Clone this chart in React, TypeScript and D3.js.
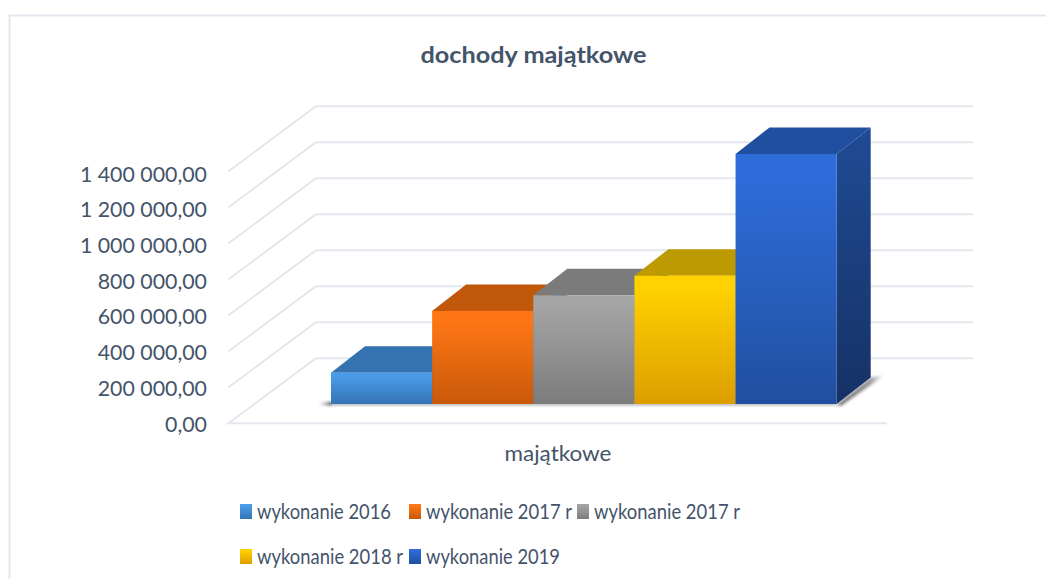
import React from "react";
import * as d3 from "d3";

const chartTitle = "dochody majątkowe";
const categoryLabel = "majątkowe";
const seriesNames = ["wykonanie 2016", "wykonanie 2017 r", "wykonanie 2017 r", "wykonanie 2018 r", "wykonanie 2019"];
const seriesValues = [174000, 517000, 604000, 713000, 1389000];
const tickValues = [0, 200000, 400000, 600000, 800000, 1000000, 1200000, 1400000];
const frontTop = ["#4a9be8", "#ff7614", "#a4a4a4", "#ffd100", "#2e6cd9"];
const frontBottom = ["#3574b4", "#c8590a", "#7c7c7c", "#dc9e00", "#214f9f"];
const topFace = ["#3572b0", "#c15809", "#7b7b7b", "#bc9a00", "#214f9f"];

const TEXT = "#44546a";
const GRID = "#e4e7ee";
const FONT = "Lato, 'Open Sans', sans-serif";

const W = 1046;
const H = 579;
const floorFrontY = 423.3;
const floorLeftX = 228.5;
const floorRightX = 886.7;
const wallDx = 87.5;
const wallDy = 65;
const baseY = 404;
const barDx = 34;
const barDy = 26.5;

const y = d3.scaleLinear().domain([0, 1400000]).range([0, 252]);
const labelY = d3.scaleLinear().domain([0, 1400000]).range([431.5, 181.7]);
const x = d3.scaleBand<number>().domain(d3.range(seriesNames.length)).range([331, 836.7]).padding(0);
const fmt = d3.formatLocale({ decimal: ",", thousands: " ", grouping: [3], currency: ["", ""] }).format(",.2f");
const poly = (pts: [number, number][]) => (d3.line()(pts) as string) + "Z";

const legendPos: [number, number][] = [[240, 504], [409, 504], [577, 504], [240, 549], [409, 549]];
const legendTextWidth = [134, 146, 146, 146, 134];

export default function App() {
  const barW = x.bandwidth();
  const lastX = x(seriesNames.length - 1)! + barW;
  return (
    <svg width={W} height={H} viewBox={`0 0 ${W} ${H}`} style={{ position: "absolute", left: 0, top: 0, background: "#fff" }} fontFamily={FONT}>
      <defs>
        {seriesNames.map((_, i) => (
          <linearGradient key={i} id={`f${i}`} x1="0" y1="0" x2="0" y2="1">
            <stop offset="0.1" stopColor={frontTop[i]} />
            <stop offset="1" stopColor={frontBottom[i]} />
          </linearGradient>
        ))}
        <linearGradient id="side" x1="0" y1="0" x2="0" y2="1">
          <stop offset="0" stopColor="#1f4b95" />
          <stop offset="1" stopColor="#163165" />
        </linearGradient>
        <linearGradient id="shR" x1="0" y1="0" x2="1" y2="0">
          <stop offset="0" stopColor="#666" />
          <stop offset="0.7" stopColor="#999" />
          <stop offset="1" stopColor="#ddd" stopOpacity="0.3" />
        </linearGradient>
        <linearGradient id="shL" x1="0" y1="0" x2="1" y2="0">
          <stop offset="0" stopColor="#ccc" stopOpacity="0" />
          <stop offset="1" stopColor="#666" />
        </linearGradient>
        <filter id="bl" x="-10%" y="-30%" width="120%" height="160%">
          <feGaussianBlur stdDeviation="0.8" />
        </filter>
        <filter id="blR" x="-20%" y="-30%" width="140%" height="160%">
          <feGaussianBlur stdDeviation="1.4" />
        </filter>
      </defs>

      <path d={`M9.5 ${H}V15.5H${W}`} fill="none" stroke={GRID} strokeWidth={2} />

      <text x={533.5} y={63} textAnchor="middle" fontSize={23.5} fontWeight={700} fill={TEXT} textLength={226} lengthAdjust="spacingAndGlyphs">{chartTitle}</text>

      {tickValues.map((t) => {
        const fy = floorFrontY - y(t);
        const isZero = t === 0;
        return (
          <g key={t}>
            <path
              d={isZero
                ? `M973 ${fy - wallDy}H${floorLeftX + wallDx}L${floorLeftX} ${fy}H${floorRightX}`
                : `M${floorLeftX} ${fy}L${floorLeftX + wallDx} ${fy - wallDy}H973`}
              fill="none" stroke={GRID} strokeWidth={2}
            />
            <text transform={`translate(207 ${labelY(t)}) scale(0.97 1)`} textAnchor="end" fontSize={22} fill={TEXT}>{fmt(t)}</text>
          </g>
        );
      })}

      <path filter="url(#blR)" d={poly([[lastX, baseY + 1], [lastX + barDx, baseY - barDy], [885, baseY - 29], [lastX + 4, baseY + 2]])} fill="url(#shR)" />
      <g filter="url(#bl)">
        <rect x={318} y={baseY - 2.5} width={14} height={4.5} fill="url(#shL)" />
        <rect x={331} y={baseY - 1} width={lastX - 331} height={2.6} fill="#b8b8b8" />
      </g>

      {seriesValues.map((v, i) => {
        const x0 = x(i)!;
        const x1 = x0 + barW;
        const top = baseY - y(v);
        return (
          <g key={i}>
            <path d={poly([[x0, top], [x0 + barDx, top - barDy], [x1 + barDx, top - barDy], [x1, top]])} fill={topFace[i]} />
            <path d={poly([[x1, top], [x1 + barDx, top - barDy], [x1 + barDx, baseY - barDy], [x1, baseY]])} fill="url(#side)" />
            <rect x={x0} y={top} width={barW} height={y(v)} fill={`url(#f${i})`} />
          </g>
        );
      })}

      <text x={558} y={461} textAnchor="middle" fontSize={21} fill={TEXT} textLength={107} lengthAdjust="spacingAndGlyphs">{categoryLabel}</text>

      {seriesNames.map((name, i) => (
        <g key={i}>
          <rect x={legendPos[i][0]} y={legendPos[i][1]} width={12} height={15} fill={`url(#f${i})`} />
          <text x={legendPos[i][0] + 17} y={legendPos[i][1] + 15} fontSize={20.5} fill={TEXT} textLength={legendTextWidth[i]} lengthAdjust="spacingAndGlyphs">{name}</text>
        </g>
      ))}
    </svg>
  );
}
